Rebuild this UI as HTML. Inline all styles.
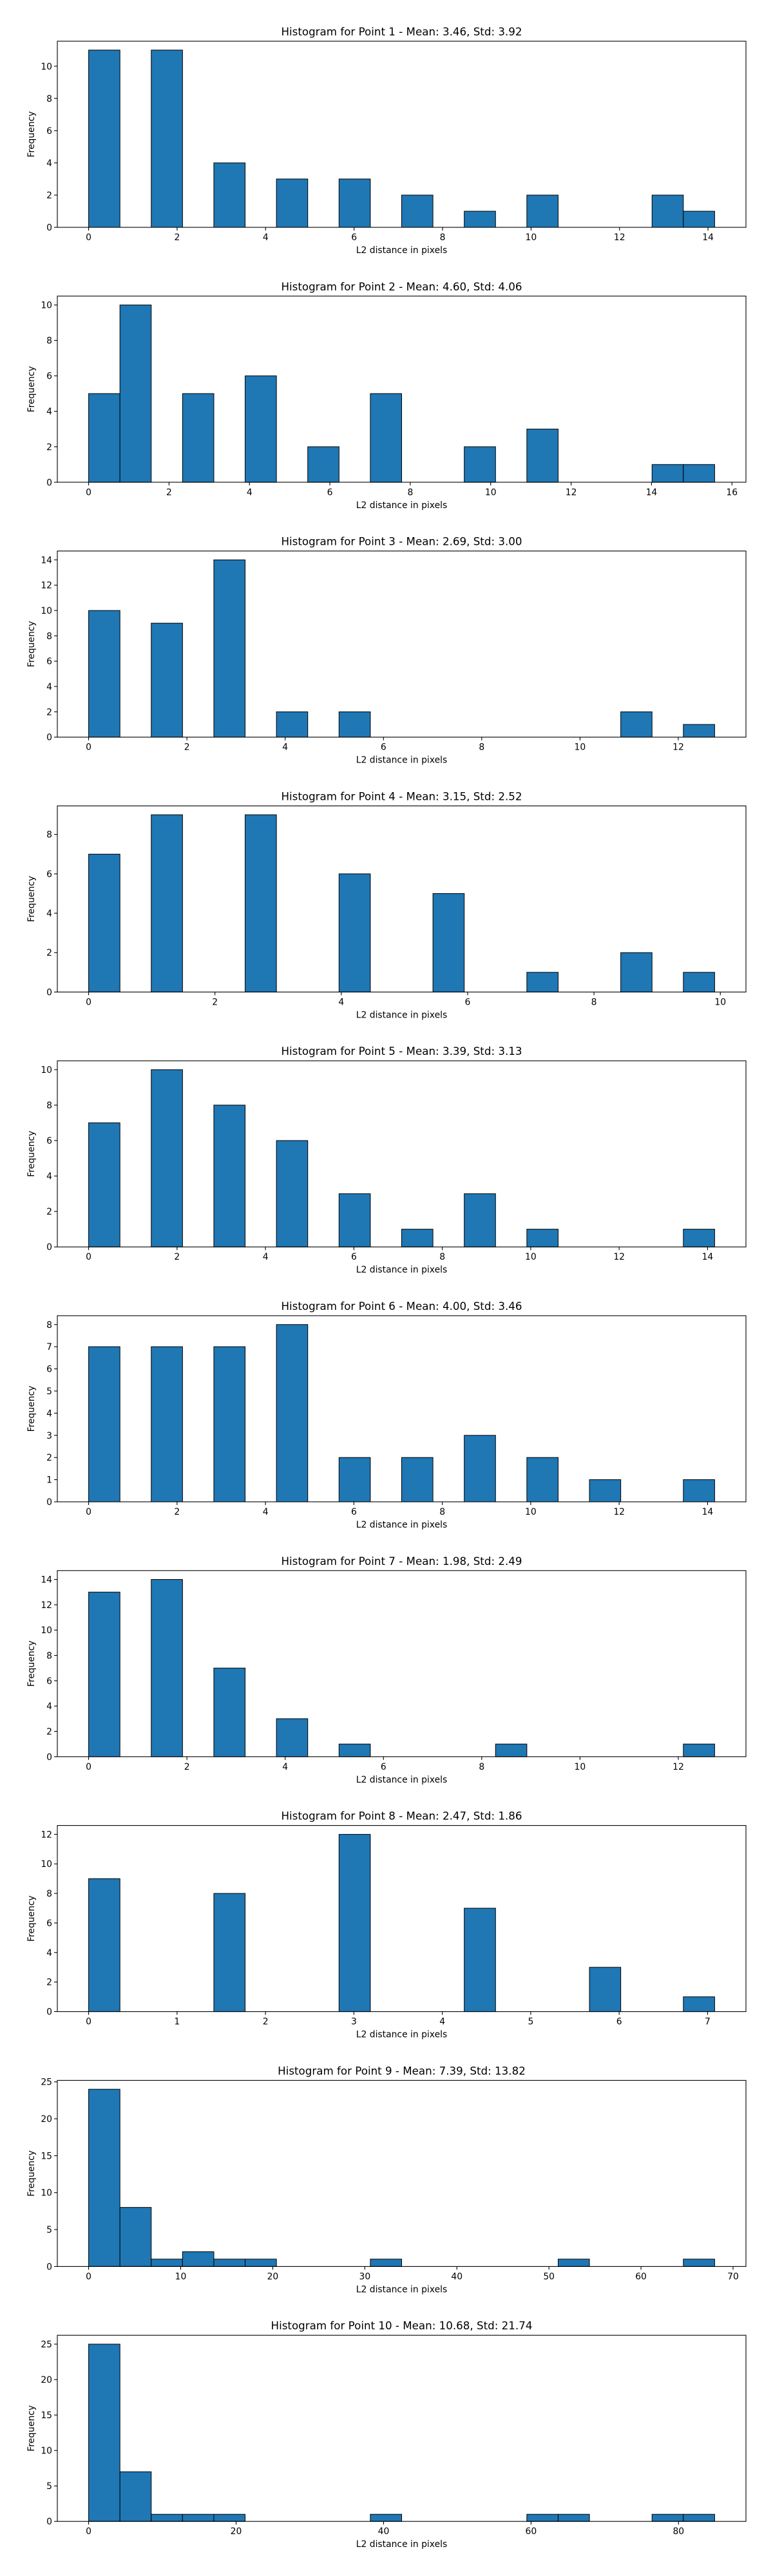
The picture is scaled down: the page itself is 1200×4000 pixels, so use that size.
<!DOCTYPE html>
<html><head><meta charset="utf-8"><style>
html,body{margin:0;padding:0;background:#fff;}
svg{display:block;font-family:"DejaVu Sans","Liberation Sans",sans-serif;}
</style></head>
<body>
<svg id="fig" width="1200" height="4000" viewBox="0 0 1200 4000" xmlns="http://www.w3.org/2000/svg"></svg>
<script>
const titles = [
 "Histogram for Point 1 - Mean: 3.46, Std: 3.92",
 "Histogram for Point 2 - Mean: 4.60, Std: 4.06",
 "Histogram for Point 3 - Mean: 2.69, Std: 3.00",
 "Histogram for Point 4 - Mean: 3.15, Std: 2.52",
 "Histogram for Point 5 - Mean: 3.39, Std: 3.13",
 "Histogram for Point 6 - Mean: 4.00, Std: 3.46",
 "Histogram for Point 7 - Mean: 1.98, Std: 2.49",
 "Histogram for Point 8 - Mean: 2.47, Std: 1.86",
 "Histogram for Point 9 - Mean: 7.39, Std: 13.82",
 "Histogram for Point 10 - Mean: 10.68, Std: 21.74"
];
const dataMin = [0,0,0,0,0,0,0,0,0,0];
const dataMax = [14.15,15.57,12.74,9.91,14.16,14.16,12.74,7.08,68.0,84.9];
const counts1 = [11,0,11,0,4,0,3,0,3,0,2,0,1,0,2,0,0,0,2,1];
const counts2 = [5,10,0,5,0,6,0,2,0,5,0,0,2,0,3,0,0,0,1,1];
const counts3 = [10,0,9,0,14,0,2,0,2,0,0,0,0,0,0,0,0,2,0,1];
const counts4 = [7,0,9,0,0,9,0,0,6,0,0,5,0,0,1,0,0,2,0,1];
const counts5 = [7,0,10,0,8,0,6,0,3,0,1,0,3,0,1,0,0,0,0,1];
const counts6 = [7,0,7,0,7,0,8,0,2,0,2,0,3,0,2,0,1,0,0,1];
const counts7 = [13,0,14,0,7,0,3,0,1,0,0,0,0,1,0,0,0,0,0,1];
const counts8 = [9,0,0,0,8,0,0,0,12,0,0,0,7,0,0,0,3,0,0,1];
const counts9 = [24,8,1,2,1,1,0,0,0,1,0,0,0,0,0,1,0,0,0,1];
const counts10 = [25,7,1,1,1,0,0,0,0,1,0,0,0,0,1,1,0,0,1,1];
const allCounts = [counts1,counts2,counts3,counts4,counts5,counts6,counts7,counts8,counts9,counts10];
const xTicks = [[0,2,4,6,8,10,12,14],[0,2,4,6,8,10,12,14,16],[0,2,4,6,8,10,12],[0,2,4,6,8,10],[0,2,4,6,8,10,12,14],[0,2,4,6,8,10,12,14],[0,2,4,6,8,10,12],[0,1,2,3,4,5,6,7],[0,10,20,30,40,50,60,70],[0,20,40,60,80]];
const yTicks = [[0,2,4,6,8,10],[0,2,4,6,8,10],[0,2,4,6,8,10,12,14],[0,2,4,6,8],[0,2,4,6,8,10],[0,1,2,3,4,5,6,7,8],[0,2,4,6,8,10,12,14],[0,2,4,6,8,10,12],[0,5,10,15,20,25],[0,5,10,15,20,25]];

const NS="http://www.w3.org/2000/svg";
const svg=document.getElementById('fig');
function mk(tag,attrs,parent){const e=document.createElementNS(NS,tag);for(const k in attrs)e.setAttribute(k,attrs[k]);(parent||svg).appendChild(e);return e;}
const AX_L=89, AX_R=1158, AX_H=289, TOP0=64, PITCH=395.8, NB=20;

allCounts.forEach((counts,p)=>{
  const top=TOP0+p*PITCH, bot=top+AX_H;
  const g=mk('g',{});
  
  
  const mn=dataMin[p], mx=dataMax[p], rng=mx-mn;
  const x0=mn-0.05*rng, x1=mx+0.05*rng;
  const ymax=Math.max(...counts)*1.05;
  const sx=v=>AX_L+(v-x0)/(x1-x0)*(AX_R-AX_L);
  const sy=v=>bot-v/ymax*AX_H;
  const w=rng/NB;
  counts.forEach((c,i)=>{
    const a=sx(mn+i*w), b=sx(mn+(i+1)*w);
    const r=mk('rect',{x:a,y:sy(c),width:b-a,height:bot-sy(c),fill:'#1f77b4',stroke:'#000','stroke-width':1},g);
    
    
  });
  const frame=mk('rect',{x:AX_L,y:top,width:AX_R-AX_L,height:AX_H,fill:'none',stroke:'#000','stroke-width':1.1},g);
  
  
  xTicks[p].forEach(t=>{
    const x=sx(t);
    mk('line',{x1:x,x2:x,y1:bot,y2:bot+5,stroke:'#000','stroke-width':1.1},g);
    const tx=mk('text',{x:x,y:bot+20,'font-size':13.9,'text-anchor':'middle',fill:'#000'},g);
    tx.textContent=t;
    
    
  });
  yTicks[p].forEach(t=>{
    const y=sy(t);
    mk('line',{x1:AX_L-5,x2:AX_L,y1:y,y2:y,stroke:'#000','stroke-width':1.1},g);
    const tx=mk('text',{x:AX_L-8,y:y+5,'font-size':13.9,'text-anchor':'end',fill:'#000'},g);
    tx.textContent=t;
    
    
  });
  const tt=mk('text',{x:(AX_L+AX_R)/2,y:top-9,'font-size':16.7,'text-anchor':'middle',fill:'#000'},g);
  tt.textContent=titles[p];
  
  
  const xl=mk('text',{x:(AX_L+AX_R)/2,y:bot+40,'font-size':13.9,'text-anchor':'middle',fill:'#000'},g);
  xl.textContent='L2 distance in pixels';
  
  
  const cy=(top+bot)/2;
  const yl=mk('text',{x:53,y:cy,'font-size':13.9,'text-anchor':'middle',fill:'#000',transform:'rotate(-90 53 '+cy+')'},g);
  yl.textContent='Frequency';
  
  
});
</script>
</body></html>
